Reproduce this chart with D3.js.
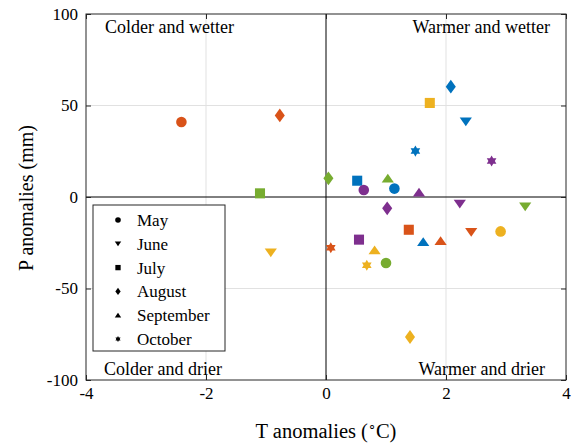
<!DOCTYPE html>
<html>
<head>
<meta charset="utf-8">
<script src="https://cdn.jsdelivr.net/npm/d3@7"></script>
</head>
<body style="margin:0; background:#fff">
<svg id="vis1" width="576" height="443" style="font-family: 'Liberation Serif', serif !important">
  <text id="ylabel" transform="translate(33,198) rotate(-90)" text-anchor="middle" style="font-family: 'Liberation Serif', serif !important; font-size: 20px">P anomalies (mm)</text>
</svg>
<script>
// chart frame
const FRAME_WIDTH = 576;
const FRAME_HEIGHT = 443;
const MARGINS = {left: 86, right: 10, top: 14, bottom: 63};
const VIS_WIDTH = FRAME_WIDTH - MARGINS.left - MARGINS.right;
const VIS_HEIGHT = FRAME_HEIGHT - MARGINS.top - MARGINS.bottom;
const FONT = "'Liberation Serif', serif";

// data, one array per series (index = month, null = no value)
const MONTHS = ["May", "June", "July", "August", "September", "October"];
const SERIES_COLORS = ["#0072BD", "#D95319", "#EDB120", "#7E2F8E", "#77AC30"];

const BLUE_T   = [1.14, 2.33, 0.52, 2.08, 1.62, 1.49];
const BLUE_P   = [4.6, 41.1, 8.9, 60.3, -24.4, 25.1];
const ORANGE_T = [-2.41, 2.42, 1.38, -0.77, 1.91, 0.08];
const ORANGE_P = [41.0, -19.3, -17.9, 44.6, -23.9, -27.7];
const YELLOW_T = [2.91, -0.92, 1.73, 1.40, 0.81, 0.68];
const YELLOW_P = [-18.8, -30.4, 51.4, -76.5, -29.0, -37.3];
const PURPLE_T = [0.63, 2.23, 0.55, 1.02, 1.55, 2.76];
const PURPLE_P = [3.8, -3.8, -23.3, -6.2, 2.6, 19.7];
const GREEN_T  = [1.00, 3.32, -1.10, 0.04, 1.03, null];
const GREEN_P  = [-36.1, -5.3, 2.0, 10.2, 10.2, null];

const X_TICKS = [-4, -2, 0, 2, 4];
const Y_TICKS = [-100, -50, 0, 50, 100];

const QUADRANT_LABELS = ["Colder and wetter", "Warmer and wetter", "Colder and drier", "Warmer and drier"];

const ALL_T = [BLUE_T, ORANGE_T, YELLOW_T, PURPLE_T, GREEN_T];
const ALL_P = [BLUE_P, ORANGE_P, YELLOW_P, PURPLE_P, GREEN_P];

// flatten into point rows
const points = [];
ALL_T.forEach((ts, s) => {
  ts.forEach((t, m) => {
    if (t === null) return;
    points.push({series: s, month: m, t: t, p: ALL_P[s][m]});
  });
});

// marker shapes, MATLAB-ish: o, v, s, d, ^, h
const SYM_CIRCLE = {draw(ctx, r) { ctx.moveTo(r, 0); ctx.arc(0, 0, r, 0, 2 * Math.PI); }};
const SYM_DOWN = {draw(ctx, r) {
  ctx.moveTo(-r * 1.15, -r * 0.8); ctx.lineTo(r * 1.15, -r * 0.8); ctx.lineTo(0, r * 0.85); ctx.closePath(); }};
const SYM_UP = {draw(ctx, r) {
  ctx.moveTo(-r * 1.15, r * 0.8); ctx.lineTo(r * 1.15, r * 0.8); ctx.lineTo(0, -r * 0.85); ctx.closePath(); }};
const SYM_SQUARE = {draw(ctx, r) { ctx.rect(-r * 0.95, -r * 0.95, r * 1.9, r * 1.9); }};
const SYM_DIAMOND = {draw(ctx, r) {
  ctx.moveTo(0, -r * 1.3); ctx.lineTo(r * 0.95, 0); ctx.lineTo(0, r * 1.3); ctx.lineTo(-r * 0.95, 0); ctx.closePath(); }};
const SYM_HEX = {draw(ctx, r) {
  // six-pointed star
  const R = r * 1.05, ri = R / Math.sqrt(3);
  for (let i = 0; i < 12; i++) {
    const a = -Math.PI / 2 + i * Math.PI / 6;
    const rr = i % 2 === 0 ? R : ri;
    if (i === 0) ctx.moveTo(rr * Math.cos(a), rr * Math.sin(a));
    else ctx.lineTo(rr * Math.cos(a), rr * Math.sin(a));
  }
  ctx.closePath(); }};
const MONTH_SYMBOLS = [SYM_CIRCLE, SYM_DOWN, SYM_SQUARE, SYM_DIAMOND, SYM_UP, SYM_HEX];

function markerPath(m, r) {
  const path = d3.path();
  MONTH_SYMBOLS[m].draw(path, r);
  return path.toString();
}

// force the serif face on a text selection
function serif(sel, size) {
  return sel.style("font-family", FONT, "important").style("font-size", size + "px");
}

const FRAME1 = d3.select("#vis1");

const X_SCALE = d3.scaleLinear().domain([-4, 4]).range([0, VIS_WIDTH]);
const Y_SCALE = d3.scaleLinear().domain([-100, 100]).range([VIS_HEIGHT, 0]);

const plot = FRAME1.append("g")
  .attr("transform", "translate(" + MARGINS.left + "," + MARGINS.top + ")");

// gridlines
plot.append("g")
  .selectAll("line.gx")
  .data(X_TICKS.filter(d => d !== 0 && Math.abs(d) !== 4))
  .enter().append("line")
    .attr("x1", d => X_SCALE(d)).attr("x2", d => X_SCALE(d))
    .attr("y1", 0).attr("y2", VIS_HEIGHT)
    .attr("stroke", "#e1e1e1").attr("stroke-width", 1);
plot.append("g")
  .selectAll("line.gy")
  .data(Y_TICKS.filter(d => d !== 0 && Math.abs(d) !== 100))
  .enter().append("line")
    .attr("x1", 0).attr("x2", VIS_WIDTH)
    .attr("y1", d => Y_SCALE(d)).attr("y2", d => Y_SCALE(d))
    .attr("stroke", "#e1e1e1").attr("stroke-width", 1);

// zero lines
plot.append("line")
  .attr("x1", X_SCALE(0)).attr("x2", X_SCALE(0))
  .attr("y1", 0).attr("y2", VIS_HEIGHT)
  .attr("stroke", "#000").attr("stroke-width", 1);
plot.append("line")
  .attr("x1", 0).attr("x2", VIS_WIDTH)
  .attr("y1", Y_SCALE(0)).attr("y2", Y_SCALE(0))
  .attr("stroke", "#000").attr("stroke-width", 1);

// axes, ticks pointing inward
const fmt = d => String(d);
function styleAxis(g) {
  g.attr("font-family", null).attr("font-size", null);
  g.select(".domain").remove();
  g.selectAll(".tick line").attr("stroke", "#262626");
  g.selectAll("text").attr("fill", "#000").call(serif, 17);
}
plot.append("g")
  .attr("transform", "translate(0," + VIS_HEIGHT + ")")
  .call(d3.axisBottom(X_SCALE).tickValues(X_TICKS).tickFormat(fmt).tickSizeInner(-5).tickSizeOuter(0).tickPadding(6))
  .call(styleAxis)
  .selectAll("text").attr("dy", "0.75em");
plot.append("g")
  .call(d3.axisTop(X_SCALE).tickValues(X_TICKS).tickFormat("").tickSizeInner(-5).tickSizeOuter(0))
  .call(styleAxis);
plot.append("g")
  .call(d3.axisLeft(Y_SCALE).tickValues(Y_TICKS).tickFormat(fmt).tickSizeInner(-5).tickSizeOuter(0).tickPadding(8))
  .call(styleAxis);
plot.append("g")
  .attr("transform", "translate(" + VIS_WIDTH + ",0)")
  .call(d3.axisRight(Y_SCALE).tickValues(Y_TICKS).tickFormat("").tickSizeInner(-5).tickSizeOuter(0))
  .call(styleAxis);

// box
plot.append("rect")
  .attr("x", 0).attr("y", 0)
  .attr("width", VIS_WIDTH).attr("height", VIS_HEIGHT)
  .attr("fill", "none").attr("stroke", "#262626").attr("stroke-width", 1);

// points
plot.selectAll("path.pt")
  .data(points)
  .enter()
  .append("path")
    .attr("class", "pt")
    .attr("transform", d => "translate(" + X_SCALE(d.t) + "," + Y_SCALE(d.p) + ")")
    .attr("d", d => markerPath(d.month, 5.3))
    .attr("fill", d => SERIES_COLORS[d.series]);

// quadrant labels
const QUAD_POS = [
  {x: 105 - MARGINS.left, y: 33 - MARGINS.top, anchor: "start"},
  {x: 550 - MARGINS.left, y: 33 - MARGINS.top, anchor: "end"},
  {x: 104 - MARGINS.left, y: 375 - MARGINS.top, anchor: "start"},
  {x: 545 - MARGINS.left, y: 375 - MARGINS.top, anchor: "end"}
];
plot.selectAll("text.quad")
  .data(QUADRANT_LABELS)
  .enter().append("text")
    .attr("class", "quad")
    .attr("x", (d, i) => QUAD_POS[i].x)
    .attr("y", (d, i) => QUAD_POS[i].y)
    .attr("text-anchor", (d, i) => QUAD_POS[i].anchor)
    .attr("fill", "#000")
    .call(serif, 18)
    .text(d => d);

// legend
const legend = FRAME1.append("g").attr("transform", "translate(93,205)");
legend.append("rect")
  .attr("width", 132).attr("height", 146)
  .attr("fill", "#fff").attr("stroke", "#262626").attr("stroke-width", 1);
const rows = legend.selectAll("g.row")
  .data(MONTHS)
  .enter().append("g")
    .attr("transform", (d, i) => "translate(0," + (15 + i * 23.8) + ")");
rows.append("path")
  .attr("transform", "translate(25,0)")
  .attr("d", (d, i) => markerPath(i, 2.8))
  .attr("fill", "#000");
rows.append("text")
  .attr("x", 44).attr("y", 0).attr("dy", "0.35em")
  .call(serif, 17)
  .text(d => d);

// x axis label (y label is in the markup)
const xlab = FRAME1.append("text")
  .attr("x", MARGINS.left + X_SCALE(0)).attr("y", 438)
  .attr("text-anchor", "middle")
  .call(serif, 20.5);
xlab.append("tspan").text("T anomalies (");
xlab.append("tspan").attr("dy", -8).style("font-size", "13px").text("\u2218");
xlab.append("tspan").attr("dy", 8).text("C)");
</script>
</body>
</html>
